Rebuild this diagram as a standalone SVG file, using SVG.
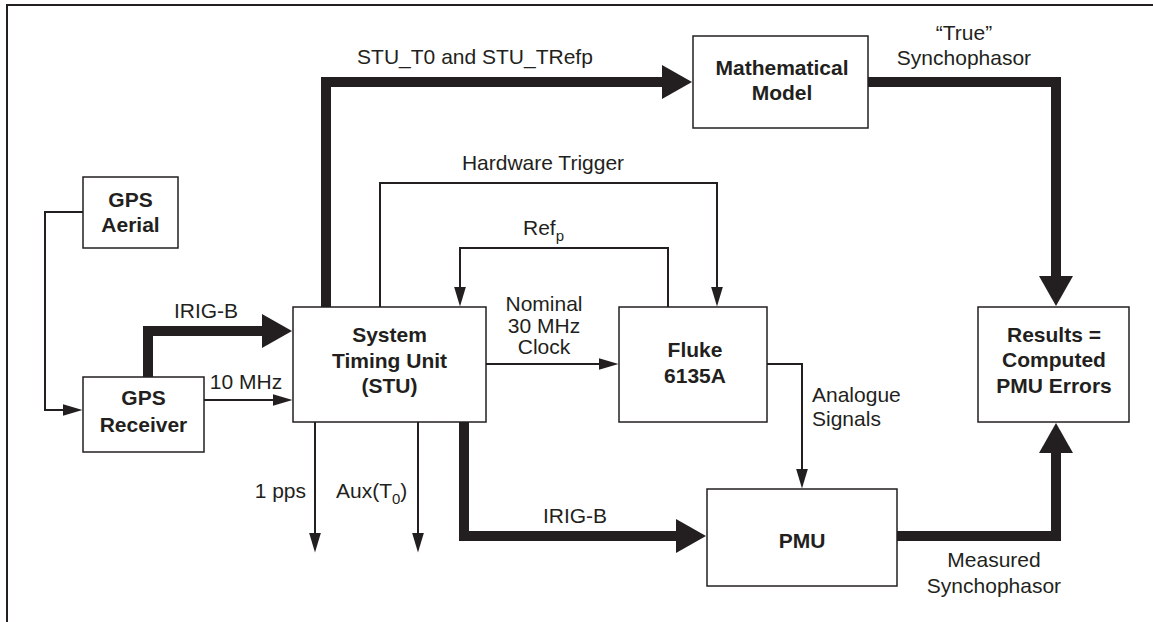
<svg xmlns="http://www.w3.org/2000/svg" width="1153" height="622" viewBox="0 0 1153 622">
<style>
text{font-family:"Liberation Sans",Arial,Helvetica,sans-serif;font-size:21px;fill:#231f20}
.b{font-weight:bold;text-anchor:middle}
.m{text-anchor:middle}
.box{fill:#fff;stroke:#231f20;stroke-width:1.5}
.thin{fill:none;stroke:#231f20;stroke-width:2}
.thick{fill:none;stroke:#231f20;stroke-width:10;stroke-linejoin:miter}
.frame{fill:none;stroke:#231f20;stroke-width:2}
</style>
<defs>
<marker id="ah" markerUnits="userSpaceOnUse" markerWidth="21" markerHeight="12" refX="0.5" refY="6" orient="auto"><path d="M0,0 L20,6 L0,12 z" fill="#231f20"/></marker>
<marker id="AH" markerUnits="userSpaceOnUse" markerWidth="31" markerHeight="34" refX="1" refY="17" orient="auto"><path d="M0,0 L30,17 L0,34 z" fill="#231f20"/></marker>
</defs>
<rect width="1153" height="622" fill="#fff"/>
<path class="frame" d="M7,622 V5 H1153"/>

<g id="connectors">
<path class="thin" d="M83,212 H45 V410 H63" marker-end="url(#ah)"/>
<path class="thick" d="M148,377 V331 H263" marker-end="url(#AH)"/>
<path class="thin" d="M204,400 H273" marker-end="url(#ah)"/>
<path class="thick" d="M326,307 V82 H663" marker-end="url(#AH)"/>
<path class="thick" d="M868,82 H1056 V277" marker-end="url(#AH)"/>
<path class="thick" d="M897,536 H1056 V452" marker-end="url(#AH)"/>
<path class="thick" d="M464,422 V536 H677" marker-end="url(#AH)"/>
<path class="thin" d="M486,364 H599" marker-end="url(#ah)"/>
<path class="thin" d="M767,364 H802 V469" marker-end="url(#ah)"/>
<path class="thin" d="M668,307 V248 H460 V287" marker-end="url(#ah)"/>
<path class="thin" d="M380,307 V183 H717 V287" marker-end="url(#ah)"/>
<path class="thin" d="M315,422 V533" marker-end="url(#ah)"/>
<path class="thin" d="M418,422 V533" marker-end="url(#ah)"/>

<text class="m" x="475" y="64">STU_T0 and STU_TRefp</text>
<text class="m" x="543" y="170">Hardware Trigger</text>
<text x="523" y="235">Ref<tspan font-size="15" dy="6">p</tspan></text>
<text class="m" x="544" y="311">Nominal</text>
<text class="m" x="544" y="333">30 MHz</text>
<text class="m" x="544" y="354">Clock</text>
<text class="m" x="206" y="318">IRIG-B</text>
<text class="m" x="246" y="389">10 MHz</text>
<text x="306" y="498" text-anchor="end">1 pps</text>
<text x="336" y="498">Aux(T<tspan font-size="15" dy="6">0</tspan><tspan dy="-6">)</tspan></text>
<text class="m" x="575" y="523">IRIG-B</text>
<text x="812" y="402">Analogue</text>
<text x="812" y="426">Signals</text>
<text class="m" x="994" y="567">Measured</text>
<text class="m" x="994" y="593">Synchophasor</text>
<text class="m" x="964" y="40">“True”</text>
<text class="m" x="964" y="65">Synchophasor</text>
</g>

<g id="gps-aerial">
<rect class="box" x="83" y="177" width="95" height="71"/>
<text class="b" x="130.5" y="207">GPS</text>
<text class="b" x="130.5" y="232">Aerial</text>
</g>
<g id="gps-receiver">
<rect class="box" x="83" y="377" width="121" height="75"/>
<text class="b" x="143.5" y="405">GPS</text>
<text class="b" x="143.5" y="432">Receiver</text>
</g>
<g id="stu">
<rect class="box" x="293" y="307" width="193" height="115"/>
<text class="b" x="389.5" y="342">System</text>
<text class="b" x="389.5" y="367.5">Timing Unit</text>
<text class="b" x="389.5" y="393">(STU)</text>
</g>
<g id="fluke">
<rect class="box" x="619" y="307" width="148" height="115"/>
<text class="b" x="695" y="357">Fluke</text>
<text class="b" x="695" y="383">6135A</text>
</g>
<g id="math-model">
<rect class="box" x="693" y="36" width="175" height="92"/>
<text class="b" x="782" y="75">Mathematical</text>
<text class="b" x="782" y="100">Model</text>
</g>
<g id="results">
<rect class="box" x="978" y="307" width="151" height="115"/>
<text class="b" x="1054" y="342">Results =</text>
<text class="b" x="1054" y="367">Computed</text>
<text class="b" x="1054" y="393">PMU Errors</text>
</g>
<g id="pmu">
<rect class="box" x="707" y="489" width="190" height="97"/>
<text class="b" x="802" y="548">PMU</text>
</g>
</svg>
